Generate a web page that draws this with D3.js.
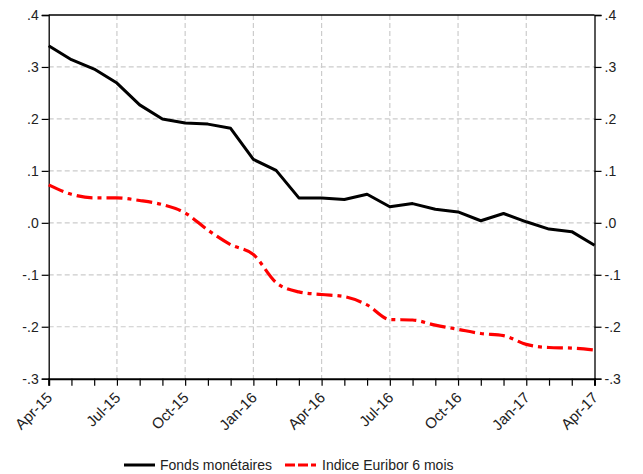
<!DOCTYPE html>
<html><head><meta charset="utf-8">
<script src="https://cdn.jsdelivr.net/npm/d3@7"></script>
<style>
html,body{margin:0;padding:0;background:#fff;}
svg{display:block;font-family:"Liberation Sans",Arial,sans-serif;}
</style></head>
<body>
<svg id="chart" width="643" height="474"></svg>
<script>
const months = ["Apr-15","May-15","Jun-15","Jul-15","Aug-15","Sep-15","Oct-15","Nov-15","Dec-15",
"Jan-16","Feb-16","Mar-16","Apr-16","May-16","Jun-16","Jul-16","Aug-16","Sep-16","Oct-16","Nov-16","Dec-16",
"Jan-17","Feb-17","Mar-17","Apr-17"];
const fondsMonetaires = [0.341,0.314,0.296,0.269,0.227,0.200,0.192,0.190,0.182,0.122,0.101,0.048,0.048,0.045,0.055,
0.031,0.037,0.026,0.021,0.004,0.018,0.002,-0.012,-0.017,-0.043];
const euribor6m = [0.073,0.055,0.048,0.048,0.043,0.035,0.019,-0.014,-0.042,-0.061,-0.115,-0.133,-0.138,-0.142,-0.158,
-0.186,-0.187,-0.197,-0.205,-0.213,-0.217,-0.234,-0.240,-0.241,-0.245];
const xTickLabels = ["Apr-15","Jul-15","Oct-15","Jan-16","Apr-16","Jul-16","Oct-16","Jan-17","Apr-17"];
const yTicks = [0.4,0.3,0.2,0.1,0.0,-0.1,-0.2,-0.3];
const seriesNames = ["Fonds monétaires","Indice Euribor 6 mois"];

const svg = d3.select("#chart");
const L = 48.7, R = 594.5, T = 15, B = 378.7;
const x = d3.scalePoint().domain(months).range([L, R]);
const y = d3.scaleLinear().domain([-0.3, 0.4]).range([B, T]);
const fmt = v => { let s = Math.abs(v).toFixed(1).replace(/^0/, ""); return (v < -1e-9 ? "-" : "") + s; };

// grid
const g = svg.append("g");
g.selectAll(".hg").data(yTicks.slice(1, -1)).join("line")
  .attr("x1", L).attr("x2", R).attr("y1", d => y(d)).attr("y2", d => y(d))
  .attr("stroke", "#cccccc").attr("stroke-width", 1.2).attr("stroke-dasharray", "5,3");
g.selectAll(".vg").data(xTickLabels.slice(1, -1)).join("line")
  .attr("y1", T).attr("y2", B).attr("x1", d => x(d)).attr("x2", d => x(d))
  .attr("stroke", "#cccccc").attr("stroke-width", 1.2).attr("stroke-dasharray", "5,3");

// axes
const axL = d3.axisLeft(y).tickValues(yTicks).tickFormat(fmt).tickSize(7).tickPadding(3);
const axR = d3.axisRight(y).tickValues(yTicks).tickFormat(fmt).tickSize(7).tickPadding(3);
const axB = d3.axisBottom(x).tickValues(months).tickFormat(d => xTickLabels.includes(d) ? d : "").tickSize(7).tickPadding(3);
function style(sel){
  sel.selectAll("path").attr("stroke","#000").attr("stroke-width",1.3);
  sel.selectAll("line").attr("stroke","#000").attr("stroke-width",1.2);
  sel.selectAll("text").attr("fill","#222").attr("font-size","14px").attr("font-family","Liberation Sans, Arial, sans-serif");
}
const gl = svg.append("g").attr("transform",`translate(${L},0)`).call(axL).call(style);
const gr = svg.append("g").attr("transform",`translate(${R},0)`).call(axR).call(style);
const gb = svg.append("g").attr("transform",`translate(0,${B})`).call(axB).call(style);
gb.select("path").attr("stroke-width",2);
gb.selectAll("text").attr("text-anchor","end").attr("dy",null).attr("y",null).attr("font-size","15px")
  .attr("transform","translate(4,20) rotate(-45)");
// top border
svg.append("line").attr("x1",L).attr("x2",R).attr("y1",T).attr("y2",T).attr("stroke","#000").attr("stroke-width",1.3);

// lines
const line = d3.line().x((d,i)=>x(months[i])).y(d=>y(d));
const lineSmooth = d3.line().x((d,i)=>x(months[i])).y(d=>y(d)).curve(d3.curveMonotoneX);
svg.append("path").datum(fondsMonetaires).attr("d",line).attr("fill","none")
  .attr("stroke","#000").attr("stroke-width",3).attr("stroke-linejoin","round");
svg.append("path").datum(euribor6m).attr("d",lineSmooth).attr("fill","none")
  .attr("stroke","#ff0000").attr("stroke-width",3.2).attr("stroke-dasharray","16,5,4,5");

// legend
const leg = svg.append("g").attr("transform","translate(0,465)");
leg.append("line").attr("x1",124).attr("x2",155).attr("stroke","#000").attr("stroke-width",3);
leg.append("text").attr("x",160).attr("y",5).attr("font-size","14px").attr("fill","#222").text(seriesNames[0]);
leg.append("line").attr("x1",285).attr("x2",316).attr("stroke","#ff0000").attr("stroke-width",3).attr("stroke-dasharray","10,3");
leg.append("text").attr("x",322).attr("y",5).attr("font-size","14px").attr("fill","#222").text(seriesNames[1]);
</script>
</body></html>
